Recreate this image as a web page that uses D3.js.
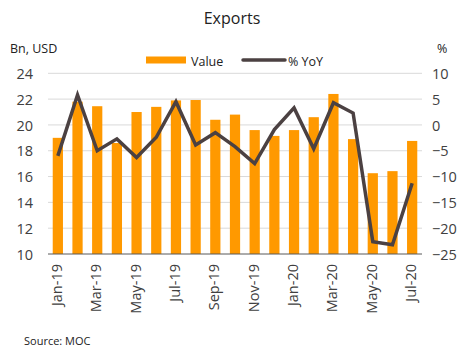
<!DOCTYPE html>
<html><head><meta charset="utf-8">
<script src="https://cdn.jsdelivr.net/npm/d3@7"></script>
<style>body{margin:0;background:#fff}svg{display:block}</style>
</head><body>
<script>
const months = ["Jan-19","Feb-19","Mar-19","Apr-19","May-19","Jun-19","Jul-19","Aug-19","Sep-19","Oct-19","Nov-19","Dec-19","Jan-20","Feb-20","Mar-20","Apr-20","May-20","Jun-20","Jul-20"];
const values = [19.0,21.8,21.45,18.6,21.0,21.4,21.9,21.93,20.4,20.8,19.6,19.15,19.6,20.6,22.4,18.9,16.26,16.42,18.76];
const yoy = [-6.0,5.8,-5.0,-2.7,-6.3,-2.4,4.5,-3.9,-1.5,-4.2,-7.5,-0.9,3.3,-4.6,4.3,2.3,-22.6,-23.2,-11.3];
const leftTicks = [10,12,14,16,18,20,22,24];
const rightTicks = [-25,-20,-15,-10,-5,0,5,10];
const xLabels = ["Jan-19","Mar-19","May-19","Jul-19","Sep-19","Nov-19","Jan-20","Mar-20","May-20","Jul-20"];

const W=471,H=356;
const font="'Open Sans', sans-serif";
const svg=d3.select("body").append("svg").attr("width",W).attr("height",H);
const x=d3.scaleBand().domain(months).range([48,422]).paddingInner(0.48).paddingOuter(0.24);
const yL=d3.scaleLinear().domain([10,24]).range([254,73.3]);
const yR=d3.scaleLinear().domain([-25,10]).range([254,73.3]);

// gridlines
svg.append("g").selectAll("line").data(leftTicks.filter(d=>d>10)).join("line")
  .attr("x1",48).attr("x2",422).attr("y1",d=>yL(d)).attr("y2",d=>yL(d))
  .attr("stroke","#d9d9d9").attr("stroke-width",1);

// bars
svg.append("g").selectAll("rect").data(values).join("rect")
  .attr("x",(d,i)=>x(months[i])).attr("width",x.bandwidth())
  .attr("y",d=>yL(d)).attr("height",d=>yL(10)-yL(d)).attr("fill","#FF9900");

// baseline
svg.append("line").attr("x1",48).attr("x2",422).attr("y1",yL(10)).attr("y2",yL(10))
  .attr("stroke","#595959").attr("stroke-width",1);

// line
const line=d3.line().x((d,i)=>x(months[i])+x.bandwidth()/2).y(d=>yR(d));
svg.append("path").datum(yoy).attr("d",line).attr("fill","none")
  .attr("stroke","#4B4142").attr("stroke-width",3.5).attr("stroke-linejoin","miter");

// left axis
const la=svg.append("g").attr("transform","translate(33,0)")
  .call(d3.axisLeft(yL).tickValues(leftTicks).tickSize(0).tickPadding(0).tickFormat(d3.format("d")));
la.select(".domain").remove();
la.selectAll("text").attr("font-family",font).attr("font-size",14.5).attr("fill","#404040").attr("dy","0.35em");

// right axis
const ra=svg.append("g").attr("transform","translate(432,0)")
  .call(d3.axisRight(yR).tickValues(rightTicks).tickSize(0).tickPadding(0).tickFormat(d3.format("d")));
ra.select(".domain").remove();
ra.selectAll("text").attr("font-family",font).attr("font-size",14.5).attr("fill","#404040").attr("dy","0.35em");

// x labels
const xa=svg.append("g").attr("transform","translate(0,254)")
  .call(d3.axisBottom(x).tickValues(xLabels).tickSize(0).tickPadding(0));
xa.select(".domain").remove();
xa.selectAll("text").attr("font-family",font).attr("font-size",14.5).attr("fill","#404040")
  .attr("text-anchor","end").attr("transform","translate(-1,10) rotate(-90)").attr("x",0).attr("y",0).attr("dy","0.35em");

// title
svg.append("text").attr("x",232).attr("y",24).attr("text-anchor","middle")
  .attr("font-family",font).attr("font-size",16).attr("fill","#222").text("Exports");
svg.append("text").attr("x",10).attr("y",53).attr("font-family",font).attr("font-size",12.5).attr("fill","#222").text("Bn, USD");
svg.append("text").attr("x",437).attr("y",53).attr("font-family",font).attr("font-size",12.5).attr("fill","#222").text("%");

// legend
svg.append("rect").attr("x",146).attr("y",56.5).attr("width",40).attr("height",7).attr("fill","#FF9900");
svg.append("text").attr("x",191).attr("y",65.5).attr("font-family",font).attr("font-size",12.5).attr("fill","#222").text("Value");
svg.append("line").attr("x1",243).attr("x2",285).attr("y1",60).attr("y2",60).attr("stroke","#4B4142").attr("stroke-width",3.5).attr("stroke-linecap","round");
svg.append("text").attr("x",288).attr("y",65.5).attr("font-family",font).attr("font-size",12.5).attr("fill","#222").text("% YoY");

svg.append("text").attr("x",24).attr("y",345).attr("font-family",font).attr("font-size",11).attr("fill","#222").text("Source: MOC");
</script>
</body></html>
